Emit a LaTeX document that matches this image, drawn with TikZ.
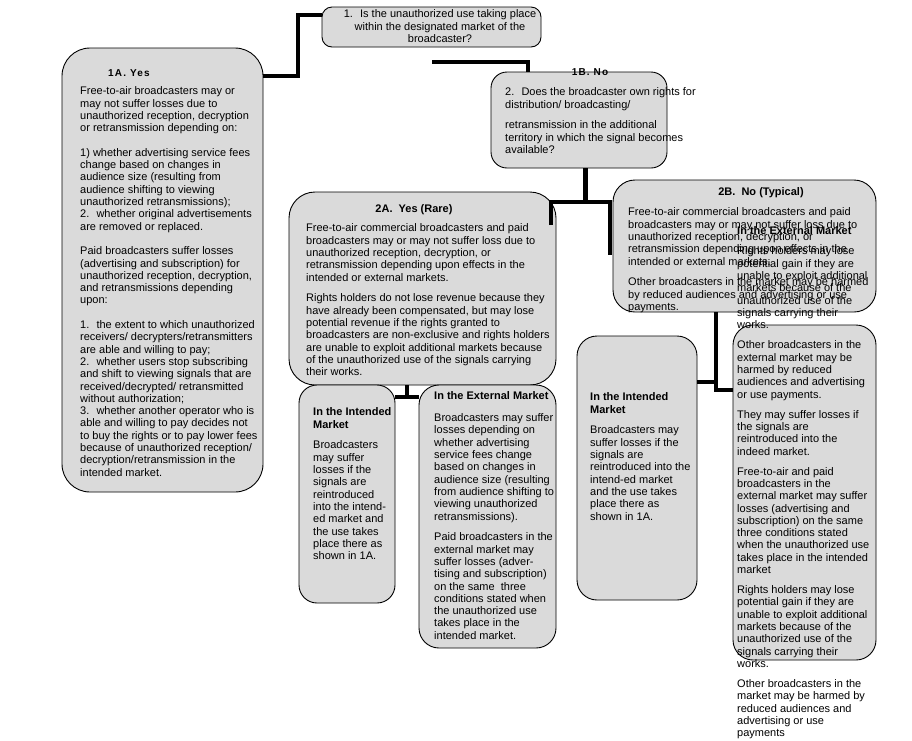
\documentclass[tikz,border=0pt]{standalone}
\usepackage{fontspec}
\setmainfont{Liberation Sans}
\newfontfamily\ttlfont[LetterSpace=12]{Liberation Sans}
\usetikzlibrary{calc}
\definecolor{boxfill}{HTML}{DADADA}
\newcommand\pg{\\[8.5pt]}
\newcommand\pgs{\\[7.8pt]}
\newcommand\bl{\\[12.3pt]}
\begin{document}
\begin{tikzpicture}[x=1pt,y=-1pt,
  box/.style={draw=black, line width=0.9pt, fill=boxfill, inner sep=0pt, rectangle},
  conn/.style={line width=4pt, black},
  txt/.style={anchor=north west, inner sep=0pt, align=left, font=\fontsize{11}{12.3}\selectfont},
  ttl/.style={anchor=base, inner sep=0pt, font=\ttlfont\bfseries\fontsize{10}{12}\selectfont},
  ttlb/.style={anchor=base, inner sep=0pt, font=\bfseries\fontsize{11}{12.3}\selectfont}]
\useasboundingbox (0,0) rectangle (912,740);
\fill[white] (0,0) rectangle (912,740);

% boxes
\node[box, minimum width=219, minimum height=40, rounded corners=10] (q1) at (431.5,27) {};
\node[box, minimum width=201, minimum height=444, rounded corners=28] (b1a) at (162.5,270) {};
\node[box, minimum width=176, minimum height=96, rounded corners=16] (q2) at (579,120) {};
\node[box, minimum width=267, minimum height=193, rounded corners=26] (b2a) at (422.5,288.5) {};
\node[box, minimum width=263, minimum height=132, rounded corners=22] (b2b) at (744.5,246) {};
\node[box, minimum width=96, minimum height=218, rounded corners=18] (b2ai) at (347,494) {};
\node[box, minimum width=137, minimum height=263, rounded corners=20] (b2ae) at (487.5,516.5) {};
\node[box, minimum width=120, minimum height=264, rounded corners=20] (b2bi) at (637,468) {};
\node[box, minimum width=143, minimum height=335, rounded corners=20] (b2be) at (804.5,492.5) {};

% connectors
\coordinate (j1) at (298,76);
\draw[conn] (b1a.east |- j1) -- (j1) |- ($(q1.west)+(0,-12)$);
\coordinate (f1) at (432,62);
\draw[conn] (f1) -| ([xshift=-51pt]q2.north);
\coordinate (j3) at (585,202);
\coordinate (j3l) at (551,202);
\coordinate (j3r) at (610,202);
\coordinate (e3l) at (551,225);
\coordinate (e3r) at (610,255);
\draw[line width=5pt] ([xshift=6pt]q2.south) -- (j3);
\draw[conn] (e3l) -- (j3l) -- (j3r) -- (e3r);
\coordinate (j4) at (407,397);
\draw[conn] ([xshift=-15.5pt]b2a.south) -- (j4);
\draw[conn] (b2ai.east |- j4) -- (b2ae.west |- j4);
\coordinate (j5a) at (716,382);
\coordinate (j5b) at (716,390);
\draw[conn] ([xshift=-28.5pt]b2b.south) -- ([yshift=-2pt]j5b);
\draw[conn] (b2bi.east |- j5a) -- (j5a);
\draw[conn] (j5b) -- (b2be.west |- j5b);

% question 1
\node[anchor=north, inner sep=0pt, align=center, font=\fontsize{11}{12.5}\selectfont] (tq1) at (440,9)
 {\strut 1.~ Is the unauthorized use taking place\\ within the designated market of the\\ broadcaster?};

% 1A
\node[ttl, anchor=base west] (h1a) at (108,76) {1A. Yes};
\node[txt] (t1a) at (80,86) {\strut Free-to-air broadcasters may or\\ may not suffer losses due to\\ unauthorized reception, decryption\\ or retransmission depending on:\bl
1) whether advertising service fees\\ change based on changes in\\ audience size (resulting from\\ audience shifting to viewing\\ unauthorized retransmissions);\\ 2.~ whether original advertisements\\ are removed or replaced.\bl
Paid broadcasters suffer losses\\ (advertising and subscription) for\\ unauthorized reception, decryption,\\ and retransmissions depending\\ upon:\bl
1.~ the extent to which unauthorized\\ receivers/ decrypters/retransmitters\\ are able and willing to pay;\\ 2.~ whether users stop subscribing\\ and shift to viewing signals that are\\ received/decrypted/ retransmitted\\ without authorization;\\ 3.~ whether another operator who is\\ able and willing to pay decides not\\ to buy the rights or to pay lower fees\\ because of unauthorized reception/\\ decryption/retransmission in the\\ intended market.};

% 1B
\node[ttl] (h1b) at (590,75) {1B. No};
\node[txt] (tq2) at (505,87) {\strut 2.~ Does the broadcaster own rights for\\ distribution/ broadcasting/\pg
retransmission in the additional\\ territory in which the signal becomes\\ available?};

% 2A
\node[ttlb] (h2a) at (414,212) {2A.~ Yes (Rare)};
\node[txt] (t2a) at (306,223) {\strut Free-to-air commercial broadcasters and paid\\ broadcasters may or may not suffer loss due to\\ unauthorized reception, decryption, or\\ retransmission depending upon effects in the\\ intended or external markets.\pg
Rights holders do not lose revenue because they\\ have already been compensated, but may lose\\ potential revenue if the rights granted to\\ broadcasters are non-exclusive and rights holders\\ are unable to exploit additional markets because\\ of the unauthorized use of the signals carrying\\ their works.};

% 2B
\node[ttlb] (h2b) at (761,195) {2B.~ No (Typical)};
\node[txt] (t2b) at (628,207) {\strut Free-to-air commercial broadcasters and paid\\ broadcasters may or may not suffer loss due to\\ unauthorized reception, decryption, or\\ retransmission depending upon effects in the\\ intended or external markets.\pg
Other broadcasters in the market may be harmed\\ by reduced audiences and advertising or use\\ payments.};

% 2A children
\node[txt] (t2ai) at (313,407) {\strut\textbf{In the Intended}\\ \textbf{Market}\pg
Broadcasters\\ may suffer\\ losses if the\\ signals are\\ reintroduced\\ into the intend-\\ ed market and\\ the use takes\\ place there as\\ shown in 1A.};
\node[txt] (t2ae) at (434,391) {\strut\textbf{In the External Market}\\[9.5pt]
Broadcasters may suffer\\ losses depending on\\ whether advertising\\ service fees change\\ based on changes in\\ audience size (resulting\\ from audience shifting to\\ viewing unauthorized\\ retransmissions).\pg
Paid broadcasters in the\\ external market may\\ suffer losses (adver-\\ tising and subscription)\\ on the same~ three\\ conditions stated when\\ the unauthorized use\\ takes place in the\\ intended market.};

% 2B children
\node[txt] (t2bi) at (590,392) {\strut\textbf{In the Intended}\\ \textbf{Market}\pg
Broadcasters may\\ suffer losses if the\\ signals are\\ reintroduced into the\\ intend-ed market\\ and the use takes\\ place there as\\ shown in 1A.};
\node[txt] (t2be) at (737,226) {\strut\textbf{In the External Market}\pgs
Rights holders may lose\\ potential gain if they are\\ unable to exploit additional\\ markets because of the\\ unauthorized use of the\\ signals carrying their\\ works.\pgs
Other broadcasters in the\\ external market may be\\ harmed by reduced\\ audiences and advertising\\ or use payments.\pgs
They may suffer losses if\\ the signals are\\ reintroduced into the\\ indeed market.\pgs
Free-to-air and paid\\ broadcasters in the\\ external market may suffer\\ losses (advertising and\\ subscription) on the same\\ three conditions stated\\ when the unauthorized use\\ takes place in the intended\\ market\pgs
Rights holders may lose\\ potential gain if they are\\ unable to exploit additional\\ markets because of the\\ unauthorized use of the\\ signals carrying their\\ works.\pgs
Other broadcasters in the\\ market may be harmed by\\ reduced audiences and\\ advertising or use\\ payments};
\end{tikzpicture}
\end{document}
